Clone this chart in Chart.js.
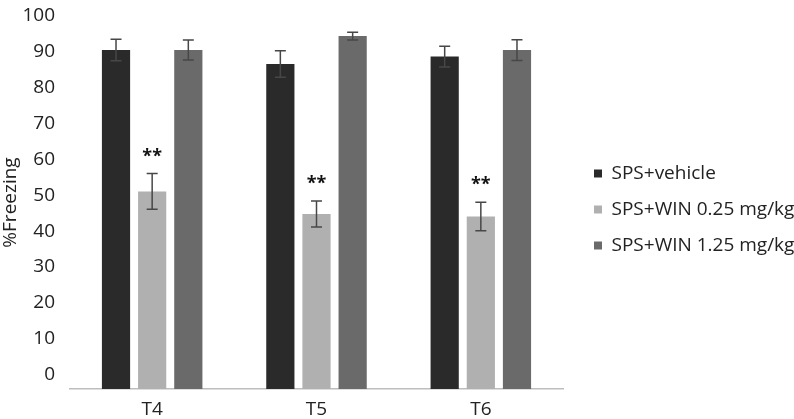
<!DOCTYPE html>
<html>
<head>
<meta charset="utf-8">
<script src="https://cdn.jsdelivr.net/npm/chart.js@4"></script>
<style>
  html, body { margin: 0; padding: 0; background: #fff; }
  #wrap { width: 794px; height: 419px; }
</style>
</head>
<body>
<div id="wrap"><canvas id="chart"></canvas></div>
<script>
// data
const labels = ['T4', 'T5', 'T6'];
const vehicle = [90.5, 86.6, 88.7];
const vehicleErr = [3.0, 3.7, 2.9];
const win025 = [51.1, 44.8, 44.1];
const win025Err = [5.0, 3.6, 4.0];
const win125 = [90.5, 94.4, 90.5];
const win125Err = [2.8, 1.1, 2.9];
const stars = ['', '**', ''];   // marks per dataset
const yTicks = [0, 10, 20, 30, 40, 50, 60, 70, 80, 90, 100];

const errors = [vehicleErr, win025Err, win125Err];
const font = "'Open Sans', sans-serif";

// error bars + significance marks
const errorBars = {
  id: 'errorBars',
  afterDatasetsDraw(chart) {
    const ctx = chart.ctx;
    const y = chart.scales.y;
    ctx.save();
    ctx.strokeStyle = '#474747';
    ctx.lineWidth = 1.5;
    chart.data.datasets.forEach((ds, i) => {
      const meta = chart.getDatasetMeta(i);
      meta.data.forEach((bar, j) => {
        const v = ds.data[j], e = errors[i][j];
        const top = y.getPixelForValue(v + e);
        const bot = y.getPixelForValue(v - e);
        ctx.beginPath();
        ctx.moveTo(bar.x, top); ctx.lineTo(bar.x, bot);
        ctx.moveTo(bar.x - 5.5, top); ctx.lineTo(bar.x + 5.5, top);
        ctx.moveTo(bar.x - 5.5, bot); ctx.lineTo(bar.x + 5.5, bot);
        ctx.stroke();
        if (stars[i]) {
          ctx.fillStyle = '#111';
          ctx.font = 'bold 18px ' + font;
          ctx.textAlign = 'center';
          ctx.textBaseline = 'middle';
          ctx.fillText(stars[i], bar.x, top - 17);
        }
      });
    });
    ctx.restore();
  }
};

new Chart(document.getElementById('chart'), {
  type: 'bar',
  data: {
    labels: labels,
    datasets: [
      { label: 'SPS+vehicle', data: vehicle, backgroundColor: '#2a2a2a', base: -4 },
      { label: 'SPS+WIN 0.25 mg/kg', data: win025, backgroundColor: '#b0b0b0', base: -4 },
      { label: 'SPS+WIN 1.25 mg/kg', data: win125, backgroundColor: '#6a6a6a', base: -4 }
    ]
  },
  options: {
    responsive: true,
    maintainAspectRatio: false,
    animation: false,
    events: [],
    datasets: { bar: { barPercentage: 0.78, categoryPercentage: 0.66 } },
    layout: { padding: 0 },
    scales: {
      x: {
        grid: { display: false, drawTicks: false },
        border: { display: true, color: '#bdbdbd', width: 1.5 },
        ticks: { color: '#222', font: { family: font, size: 19, lineHeight: 1 }, padding: 11 },
        afterFit: (s) => { s.height = 30; }
      },
      y: {
        min: -4,
        max: 100,
        afterBuildTicks: (axis) => { axis.ticks = yTicks.map(v => ({ value: v })); },
        grid: { display: false, drawTicks: false },
        border: { display: false },
        ticks: { color: '#222', font: { family: font, size: 19, lineHeight: 1 }, padding: 15 },
        title: { display: true, text: '%Freezing', color: '#222', font: { family: font, size: 19, lineHeight: 1.1 }, padding: 0 },
        afterFit: (s) => { s.width = 70; s.paddingTop = 16; }
      },
      // empty strip between plot and legend
      gap: {
        type: 'linear',
        position: 'right',
        grid: { display: false, drawTicks: false },
        border: { display: false },
        ticks: { display: false },
        afterFit: (s) => { s.width = 14; }
      }
    },
    plugins: {
      tooltip: { enabled: false },
      legend: {
        position: 'right',
        maxWidth: 217,
        labels: {
          color: '#222',
          font: { family: font, size: 19 },
          boxWidth: 8,
          boxHeight: 8,
          padding: 17
        }
      }
    }
  },
  plugins: [errorBars]
});
</script>
</body>
</html>
